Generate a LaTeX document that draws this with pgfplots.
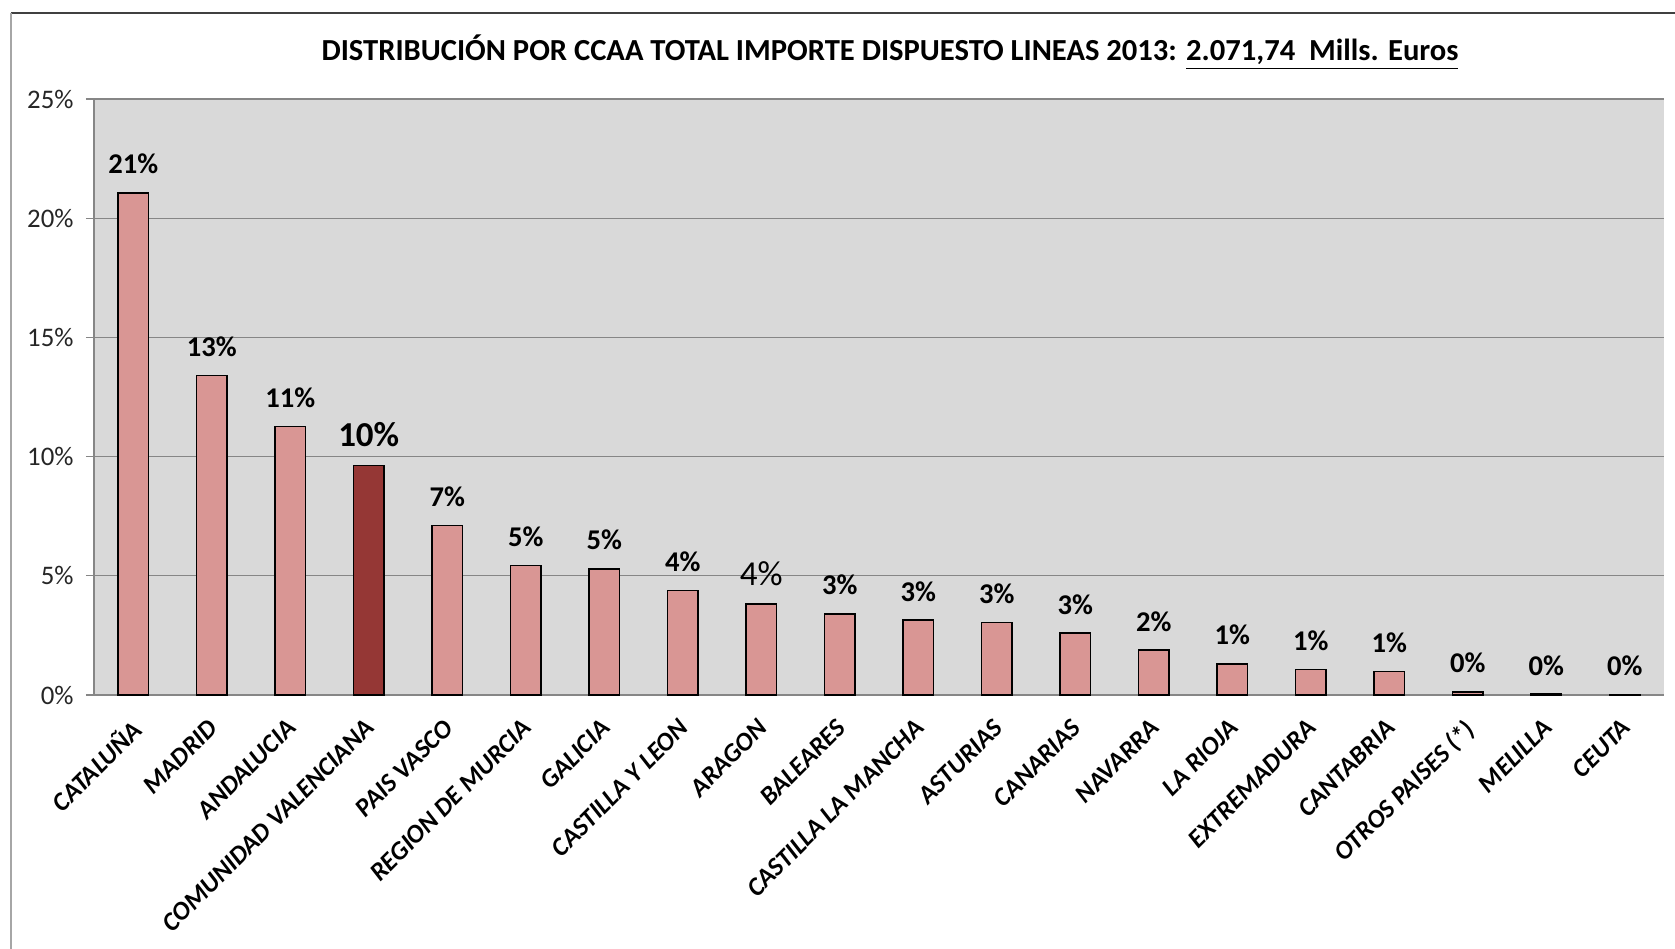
\documentclass[border=0pt]{standalone}
\usepackage{fontspec}
\setmainfont{Carlito}
\usepackage{pgfplots}
\pgfplotsset{compat=1.18}
\usetikzlibrary{calc}
\definecolor{barlight}{HTML}{D99694}
\definecolor{bardark}{HTML}{953735}
\definecolor{plotbg}{HTML}{D9D9D9}
\definecolor{gridc}{HTML}{868686}

\begin{document}
\begin{tikzpicture}
\begin{axis}[
    scale only axis,
    width=785pt, height=298pt,
    ybar, clip=false,
    xmin=-0.5, xmax=19.5, ymin=0, ymax=25,
    axis background/.style={fill=plotbg},
    axis lines*=left,
    axis line style={gridc, line width=0.6pt},
    tick align=outside,
    ytick={0,5,...,25},
    yticklabel={\pgfmathprintnumber{\tick}\%},
    /pgf/number format/assume math mode=true,
    ymajorgrids, grid style={gridc, line width=0.6pt},
    major tick length=4pt,
    tick style={gridc, line width=0.6pt},
    xtick={0,...,19},
    x tick style={draw=none},
    minor xtick={-0.5,0.5,...,19.5},
    minor tick length=5pt,
    xticklabels={CATALUÑA, MADRID, ANDALUCIA, COMUNIDAD VALENCIANA, PAIS VASCO,
      REGION DE MURCIA, GALICIA, CASTILLA Y LEON, ARAGON, BALEARES,
      CASTILLA LA MANCHA, ASTURIAS, CANARIAS, NAVARRA, LA RIOJA,
      EXTREMADURA, CANTABRIA, OTROS PAISES (*), MELILLA, CEUTA},
    % shifts act in the rotated frame of the label
    xticklabel style={rotate=45, anchor=north east, inner sep=0pt,
      xshift=-6.7pt, yshift=-3.3pt, font=\fontsize{13}{15}\selectfont\bfseries\itshape},
    yticklabel style={font=\fontsize{13.4}{16}\selectfont, text=black!85, xshift=-2.7pt},
    title={DISTRIBUCIÓN POR CCAA TOTAL IMPORTE DISPUESTO LINEAS 2013: \underline{2.071,74\ \ Mills. Euros}},
    title style={font=\fontsize{15.3}{18}\selectfont\bfseries, anchor=base,
      at={(0.5,1)}, yshift=13pt, xshift=5.5pt},
    bar width=0.39,
    nodes near coords={\pgfmathprintnumber[fixed,precision=0]{\pgfplotspointmeta}\%},
    every node near coord/.append style={anchor=base, yshift=9.5pt, inner sep=0pt,
      font=\fontsize{14.3}{16}\selectfont\bfseries},
]
\addplot[fill=barlight, draw=black, line width=0.7pt, bar shift=0pt] coordinates {
  (0,21.06) (1,13.40) (2,11.25) (4,7.12) (5,5.42) (6,5.29) (7,4.39)
  (9,3.40) (10,3.14) (11,3.05) (12,2.60) (13,1.88) (14,1.30) (15,1.08)
  (16,0.99) (17,0.13) (18,0.04) (19,0.03)
};
\addplot[fill=bardark, draw=black, line width=0.7pt, bar shift=0pt,
  every node near coord/.append style={font=\fontsize{17.5}{20}\selectfont\bfseries}]
  coordinates {(3,9.63)};
\addplot[fill=barlight, draw=black, line width=0.7pt, bar shift=0pt,
  every node near coord/.append style={font=\fontsize{17.5}{20}\selectfont\mdseries}]
  coordinates {(8,3.81)};
\end{axis}
\coordinate (SW) at (current axis.south west);
\coordinate (NE) at (current axis.north east);
\pgfresetboundingbox
\path[use as bounding box] ($(SW)+(-47pt,-127pt)$) rectangle ($(NE)+(5.5pt,49.5pt)$);
\draw[black!75, line width=1.2pt] ($(SW|-NE)+(-41.5pt,43pt)$) -- ($(NE)+(5.5pt,43pt)$);
\draw[gray!70, line width=1pt] ($(SW|-NE)+(-41.5pt,43pt)$) -- ($(SW)+(-41.5pt,-127pt)$);
\end{tikzpicture}
\end{document}
